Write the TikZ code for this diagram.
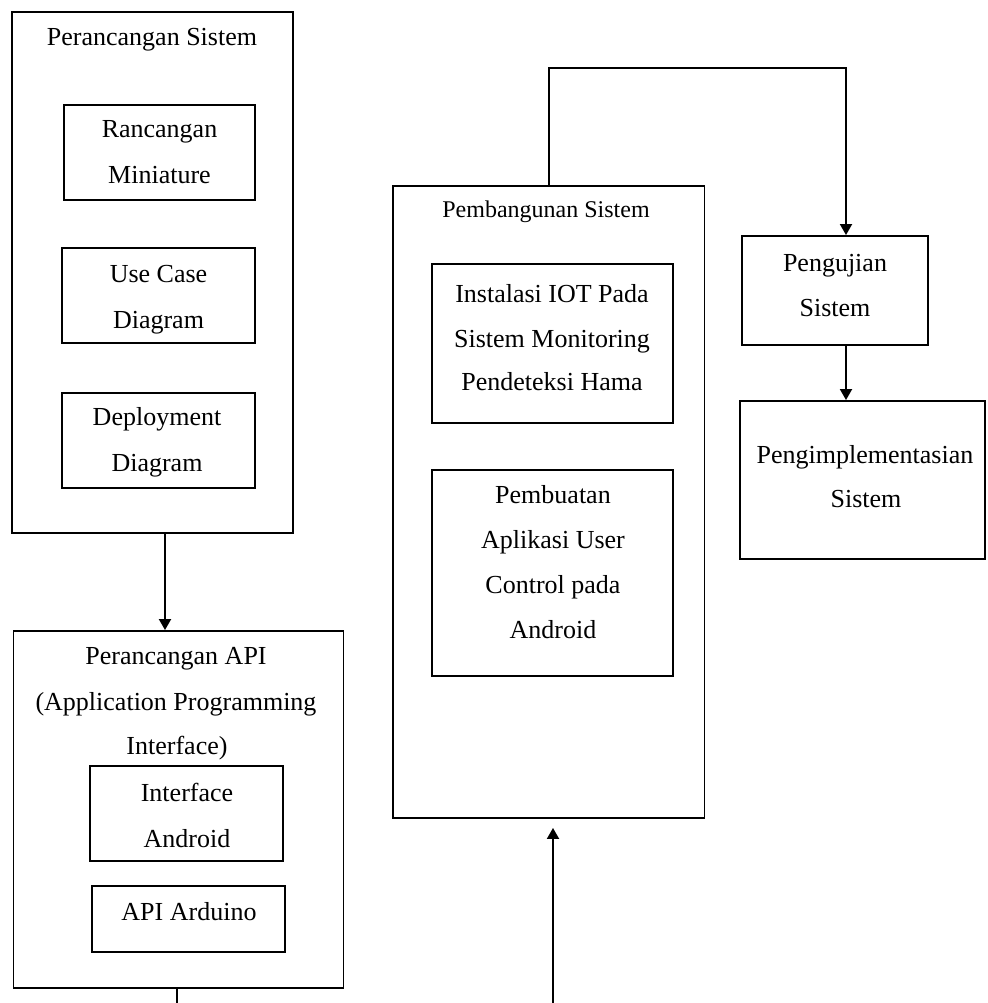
\documentclass[tikz,border=0pt]{standalone}
\usepackage{fontspec}
\setmainfont{Liberation Serif}
\usetikzlibrary{arrows.meta,fit}
\begin{document}
\begin{tikzpicture}[x=1pt,y=-1pt,
  box/.style={draw, line width=1.9pt, inner sep=0pt},
  lbl/.style={anchor=base, inner sep=0pt, font=\fontsize{26}{30}\selectfont},
  lbls/.style={anchor=base, inner sep=0pt, font=\fontsize{24}{28}\selectfont},
  arr/.style={line width=1.9pt, -{Triangle[length=11pt,width=12pt]}},
  ln/.style={line width=1.9pt}]
\fill[white] (0,0) rectangle (987,1003);
\useasboundingbox (0,0) rectangle (987,1003);

% Perancangan Sistem
\node[box, fit={(12,12) (293,533)}] (sis) {};
\node[lbl] (sisT) at (152,45.5) {Perancangan Sistem};
\node[box, fit={(64,105) (255,200)}] (rm) {};
\node[lbl] (rm1) at (159.5,138) {Rancangan};
\node[lbl] (rm2) at (159.5,183) {Miniature};
\node[box, fit={(62,248) (255,343)}] (uc) {};
\node[lbl] (uc1) at (158.5,282) {Use Case};
\node[lbl] (uc2) at (158.5,328) {Diagram};
\node[box, fit={(62,393) (255,488)}] (dd) {};
\node[lbl] (dd1) at (157,425) {Deployment};
\node[lbl] (dd2) at (157,471) {Diagram};

% Perancangan API
\node[box, fit={(13.5,631) (343.5,988)}] (api) {};
\node[lbl] (api1) at (176,664) {Perancangan API};
\node[lbl] (api2) at (176,710) {(Application Programming};
\node[lbl] (api3) at (177,754) {Interface)};
\node[box, fit={(90,766) (283,861)}] (ia) {};
\node[lbl] (ia1) at (187,801) {Interface};
\node[lbl] (ia2) at (187,847) {Android};
\node[box, fit={(92,886) (285,952)}] (ard) {};
\node[lbl] (ard1) at (189,920) {API Arduino};

% Pembangunan Sistem
\node[box, fit={(393,186) (704.5,818)}] (pem) {};
\node[lbls] (pemT) at (546,217) {Pembangunan Sistem};
\node[box, fit={(432,264) (673,423)}] (iot) {};
\node[lbl] (iot1) at (552,302) {Instalasi IOT Pada};
\node[lbl] (iot2) at (552,347) {Sistem Monitoring};
\node[lbl] (iot3) at (552,390) {Pendeteksi Hama};
\node[box, fit={(432,470) (673,676)}] (app) {};
\node[lbl] (app1) at (553,503) {Pembuatan};
\node[lbl] (app2) at (553,548) {Aplikasi User};
\node[lbl] (app3) at (553,593) {Control pada};
\node[lbl] (app4) at (553,638) {Android};

% Pengujian
\node[box, fit={(742,236) (928,345)}] (pgj) {};
\node[lbl] (pgj1) at (835,271) {Pengujian};
\node[lbl] (pgj2) at (835,316) {Sistem};

% Pengimplementasian
\node[box, fit={(740,401) (985,559)}] (imp) {};
\node[lbl] (imp1) at (865,463) {Pengimplementasian};
\node[lbl] (imp2) at (866,507) {Sistem};

% connectors
\coordinate (c1) at (165,0);
\draw[arr] (sis.south -| c1) -- (api.north -| c1);
\coordinate (top) at (846,68);
\draw[arr] (pem.north) |- (top) -- (pgj.north -| top);
\draw[arr] (pgj.south -| top) -- (imp.north -| top);
\coordinate (b1) at (177,1003);
\draw[ln] (api.south -| b1) -- (b1);
\coordinate (b2) at (553,1003);
\draw[arr, shorten >=9pt] (b2) -- (pem.south -| b2);
\end{tikzpicture}
\end{document}
